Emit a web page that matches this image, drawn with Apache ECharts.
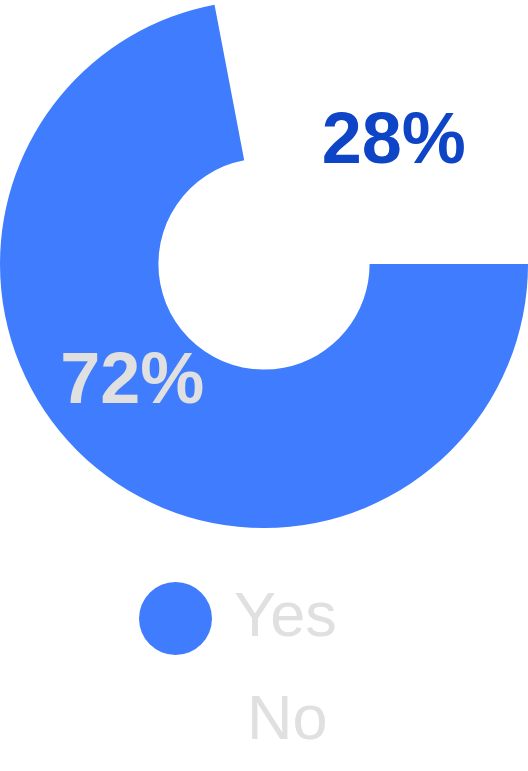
<!DOCTYPE html>
<html>
<head>
<meta charset="utf-8">
<script src="https://cdn.jsdelivr.net/npm/echarts@6/dist/echarts.min.js"></script>
<style>
html,body{margin:0;padding:0;background:#ffffff;}
#chart{width:528px;height:771px;}
</style>
</head>
<body>
<div id="chart"></div>
<script>
const categories = ['Yes', 'No'];
const values = [72, 28];

const sliceColors = ['#3f7cfe', 'rgba(255,255,255,0)'];
const labelColors = ['#e0e0e0', '#0e44c6'];
const labelShift = [{dx: -12, dy: -26}, {dx: 10, dy: 24}];

const chart = echarts.init(document.getElementById('chart'), null, {renderer: 'canvas'});

const total = values.reduce((a, b) => a + b, 0);
const pieData = categories.map((c, i) => ({
  name: c,
  value: values[i],
  itemStyle: {color: sliceColors[i]},
  label: {color: labelColors[i]}
}));

const legendBase = {
  orient: 'vertical',
  icon: 'circle',
  padding: 0,
  itemWidth: 73,
  itemHeight: 73,
  itemGap: 0,
  selectedMode: false,
  textStyle: {
    fontFamily: 'Liberation Sans, Arial, sans-serif',
    fontSize: 63,
    color: '#e0e0e0',
    padding: [0, 0, 0, 17]
  }
};

chart.setOption({
  animation: false,
  backgroundColor: '#ffffff',
  legend: [
    Object.assign({}, legendBase, {data: [categories[0]], left: 139, top: 582}),
    Object.assign({}, legendBase, {
      data: [categories[1]], left: 152, top: 685,
      itemStyle: {color: 'rgba(255,255,255,0)', opacity: 0}
    })
  ],
  series: [{
    type: 'pie',
    center: [264, 264],
    radius: ['40%', '100%'],
    startAngle: 0,
    clockwise: true,
    silent: true,
    label: {
      show: true,
      position: 'inside',
      fontFamily: 'Liberation Sans, Arial, sans-serif',
      fontWeight: 'bold',
      fontSize: 72,
      formatter: p => Math.round(p.value / total * 100) + '%'
    },
    labelLine: {show: false},
    labelLayout: p => labelShift[p.dataIndex],
    emphasis: {disabled: true},
    data: pieData
  }]
});
</script>
</body>
</html>
